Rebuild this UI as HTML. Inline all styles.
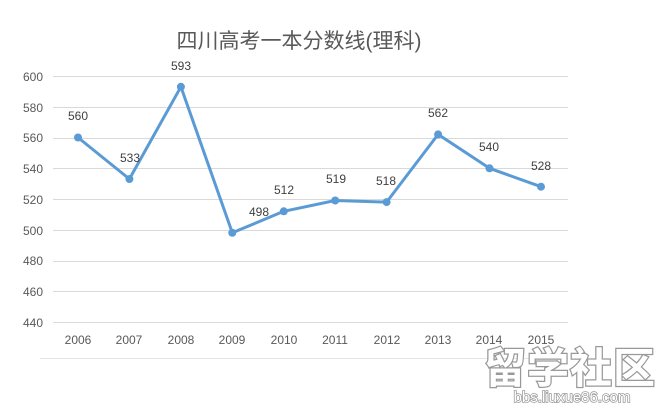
<!DOCTYPE html><html><head><style>body{margin:0;background:#fff}svg{display:block}</style></head><body>
<svg width="655" height="406" xmlns="http://www.w3.org/2000/svg" font-family="Liberation Sans, sans-serif">
<text x="299" y="48" font-size="21" fill="#595959" text-anchor="middle" font-family="Liberation Sans, Noto Sans CJK SC, sans-serif">四川高考一本分数线(理科)</text>
<g stroke="#d9d9d9" stroke-width="1">
<line x1="53" x2="568" y1="76.5" y2="76.5"/><line x1="53" x2="568" y1="107.5" y2="107.5"/><line x1="53" x2="568" y1="138.5" y2="138.5"/><line x1="53" x2="568" y1="168.5" y2="168.5"/><line x1="53" x2="568" y1="199.5" y2="199.5"/><line x1="53" x2="568" y1="230.5" y2="230.5"/><line x1="53" x2="568" y1="261.5" y2="261.5"/><line x1="53" x2="568" y1="291.5" y2="291.5"/><line x1="53" x2="568" y1="322.5" y2="322.5"/>
<line x1="40" x2="568" y1="358.5" y2="358.5" stroke="#e4e4e4"/>
</g>
<g font-size="12" fill="#595959" text-anchor="end">
<text x="43" y="81">600</text><text x="43" y="112">580</text><text x="43" y="142">560</text><text x="43" y="173">540</text><text x="43" y="204">520</text><text x="43" y="235">500</text><text x="43" y="265">480</text><text x="43" y="296">460</text><text x="43" y="327">440</text>
</g>
<g font-size="12" fill="#595959" text-anchor="middle">
<text x="78" y="344">2006</text><text x="129" y="344">2007</text><text x="181" y="344">2008</text><text x="232" y="344">2009</text><text x="284" y="344">2010</text><text x="335" y="344">2011</text><text x="387" y="344">2012</text><text x="438" y="344">2013</text><text x="489" y="344">2014</text><text x="541" y="344">2015</text>
</g>
<polyline fill="none" stroke="#5b9bd5" stroke-width="3" stroke-linejoin="round" points="78,137.5 129.4,179 180.9,86.8 232.3,232.8 283.8,211.3 335.2,200.5 386.6,202.1 438.1,134.4 489.5,168.3 541,186.7"/>
<g fill="#5b9bd5">
<circle cx="78" cy="137.5" r="4"/><circle cx="129.4" cy="179" r="4"/><circle cx="180.9" cy="86.8" r="4"/><circle cx="232.3" cy="232.8" r="4"/><circle cx="283.8" cy="211.3" r="4"/><circle cx="335.2" cy="200.5" r="4"/><circle cx="386.6" cy="202.1" r="4"/><circle cx="438.1" cy="134.4" r="4"/><circle cx="489.5" cy="168.3" r="4"/><circle cx="541" cy="186.7" r="4"/>
</g>
<g font-size="12" fill="#404040" text-anchor="middle">
<text x="78" y="120">560</text><text x="130" y="162">533</text><text x="181" y="70">593</text><text x="259" y="216">498</text><text x="284" y="194">512</text><text x="336" y="183">519</text><text x="386" y="185">518</text><text x="438" y="117">562</text><text x="489" y="151">540</text><text x="541" y="170">528</text>
</g>
<g font-family="Liberation Sans, Noto Sans CJK SC, sans-serif" fill="#fff" stroke="#999" stroke-width="2.5" paint-order="stroke">
<text x="570" y="383" font-size="42" font-weight="bold" text-anchor="middle" letter-spacing="1">留学社区</text>
<text x="572" y="402" font-size="15" text-anchor="middle" stroke-width="1.5">bbs.liuxue86.com</text>
</g>
</svg></body></html>
